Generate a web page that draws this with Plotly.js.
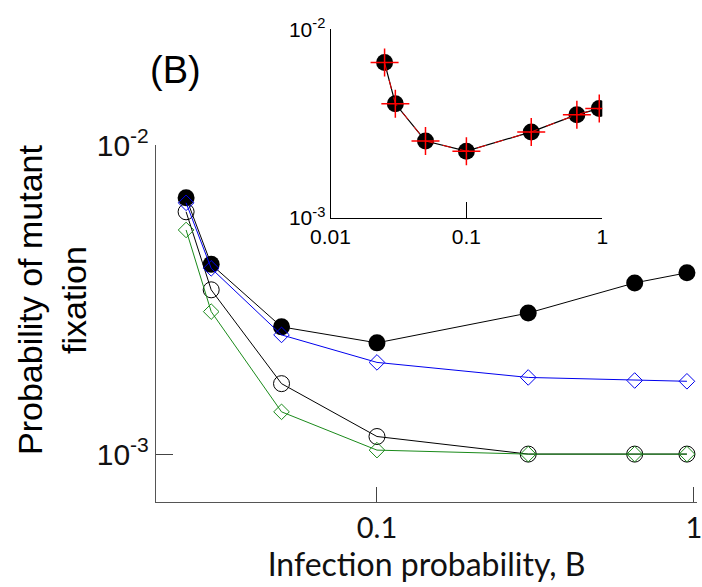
<!DOCTYPE html>
<html>
<head>
<meta charset="utf-8">
<script src="https://cdn.plot.ly/plotly-3.0.1.min.js"></script>
<style>html,body{margin:0;padding:0;background:#fff;}#chart{width:702px;height:587px;}</style>
</head>
<body>
<div id="chart"></div>
<script>
// Infection probability B
const infectionB = [0.025, 0.03, 0.05, 0.1, 0.3, 0.65, 0.95];
// Main panel series (probability of mutant fixation)
const filledBlack = [0.00675, 0.00411, 0.00258, 0.00229, 0.00286, 0.00358, 0.00386];
const blueDiamond = [0.0065, 0.00399, 0.00243, 0.00198, 0.00177, 0.00173, 0.00172];
const openCircle  = [0.00608, 0.0034, 0.00169, 0.00114, 0.001, 0.001, 0.001];
const greenDiamond = [0.00531, 0.00289, 0.00137, 0.00103, 0.001, 0.001, 0.001];
// Inset series
const insetBlack = [0.00666, 0.00403, 0.00256, 0.00226, 0.00286, 0.00353, 0.0038];
const insetRed   = [0.00666, 0.00403, 0.00256, 0.00226, 0.00286, 0.00353, 0.0038];
// Tick labels
const mainXTicks = [0.1, 1];
const mainXText = ["0.1", "1"];
const yTicks = [0.001, 0.01];
const yText = ["10<sup>-3</sup>", "10<sup>-2</sup>"];
const insetXTicks = [0.01, 0.1, 1];
const insetXText = ["0.01", "0.1", "1"];

const L = 156, W = 541;
const px = v => (v - L) / W;

const traces = [
  {x: infectionB, y: filledBlack, mode: 'lines+markers', xaxis: 'x', yaxis: 'y',
   line: {color: '#000', width: 1}, marker: {symbol: 'circle', size: 17, color: '#000'}},
  {x: infectionB, y: openCircle, mode: 'lines+markers', xaxis: 'x', yaxis: 'y',
   line: {color: '#000', width: 1}, marker: {symbol: 'circle-open', size: 16, color: '#000', line: {width: 1}}},
  {x: infectionB, y: blueDiamond, mode: 'lines+markers', xaxis: 'x', yaxis: 'y',
   line: {color: '#0000ee', width: 1}, marker: {symbol: 'diamond-open', size: 12, color: '#0000ee', line: {width: 1}}},
  {x: infectionB, y: greenDiamond, mode: 'lines+markers', xaxis: 'x', yaxis: 'y',
   line: {color: '#1a8a1a', width: 1}, marker: {symbol: 'diamond-open', size: 12, color: '#1a8a1a', line: {width: 1}}},
  {x: infectionB, y: insetBlack, mode: 'lines+markers', xaxis: 'x2', yaxis: 'y2',
   line: {color: '#000', width: 1.2}, marker: {symbol: 'circle', size: 17, color: '#000'}},
  {x: infectionB, y: insetRed, mode: 'lines+markers', xaxis: 'x2', yaxis: 'y2',
   line: {color: '#ee0000', width: 1, dash: 'dash'},
   marker: {symbol: 'cross-thin', size: 20, color: '#ff0000', line: {color: '#ff0000', width: 1.5}}}
];

const axisCommon = {showgrid: false, zeroline: false, showline: true, ticks: 'inside', mirror: false,
                    ticklabeloverflow: 'allow'};

const layout = {
  width: 702, height: 587,
  margin: {l: L, r: 702 - L - W, t: 10, b: 85},
  paper_bgcolor: '#fff', plot_bgcolor: 'rgba(0,0,0,0)',
  showlegend: false,
  font: {family: 'Liberation Sans, Arial, sans-serif', color: '#000'},
  xaxis: Object.assign({}, axisCommon, {
    type: 'log', range: [-1.697, 0.0095], domain: [0, 1], anchor: 'y',
    tickvals: mainXTicks, ticktext: mainXText, ticklen: 15, tickcolor: '#444',
    linecolor: '#555', linewidth: 1.2,
    tickfont: {family: 'Lato, Open Sans, sans-serif', size: 29, color: '#111'},
    title: {text: 'Infection probability, B', standoff: 8,
            font: {family: 'Lato, Open Sans, sans-serif', size: 32, color: '#111'}}
  }),
  yaxis: Object.assign({}, axisCommon, {
    type: 'log', range: [-3.155, -2], domain: [0, 0.7256], anchor: 'x',
    tickvals: yTicks, ticktext: yText, ticklen: 17, tickcolor: '#444',
    linecolor: '#555', linewidth: 1.2,
    tickfont: {family: 'Liberation Sans, Arial, sans-serif', size: 30, color: '#111'}
  }),
  xaxis2: Object.assign({}, axisCommon, {
    type: 'log', range: [-2, 0], domain: [px(330.5), px(602.3)], anchor: 'y2',
    tickvals: insetXTicks, ticktext: insetXText, ticklen: 16, tickcolor: '#000',
    linecolor: '#000', linewidth: 1,
    tickfont: {family: 'Liberation Sans, Arial, sans-serif', size: 21, color: '#000'}
  }),
  yaxis2: Object.assign({}, axisCommon, {
    type: 'log', range: [-3, -2], domain: [0.5772, 0.9608], anchor: 'x2',
    tickvals: yTicks, ticktext: yText, ticklen: 16, tickcolor: '#000',
    linecolor: '#000', linewidth: 1,
    tickfont: {family: 'Liberation Sans, Arial, sans-serif', size: 21, color: '#000'}
  }),
  annotations: [
    {text: '(B)', xref: 'paper', yref: 'paper', x: px(175), y: (502 - 70) / 492,
     xanchor: 'center', yanchor: 'middle', showarrow: false,
     font: {family: 'Liberation Sans, Arial, sans-serif', size: 38, color: '#000'}},
    {text: 'Probability of mutant<br>fixation', xref: 'paper', yref: 'paper',
     x: px(52), y: (502 - 300) / 492, xanchor: 'center', yanchor: 'middle',
     textangle: -90, showarrow: false,
     font: {family: 'Liberation Sans, Arial, sans-serif', size: 34, color: '#000'}}
  ]
};

Plotly.newPlot('chart', traces, layout, {displayModeBar: false, staticPlot: true});
</script>
</body>
</html>
